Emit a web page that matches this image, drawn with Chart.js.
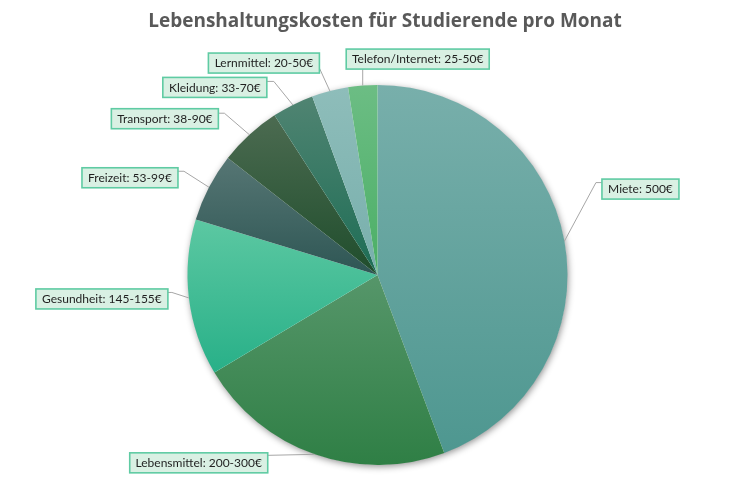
<!DOCTYPE html>
<html><head><meta charset="utf-8">
<script src="https://cdn.jsdelivr.net/npm/chart.js@4.4.1/dist/chart.umd.min.js"></script>
<style>html,body{margin:0;padding:0;background:#fff}#wrap{width:750px;height:492px;position:relative}</style>
</head><body><div id="wrap"><canvas id="c" width="750" height="492"></canvas></div>
<script>
const chartTitle = 'Lebenshaltungskosten für Studierende pro Monat';
const categories = ['Miete','Lebensmittel','Gesundheit','Freizeit','Transport','Kleidung','Lernmittel','Telefon/Internet'];
const values = [500, 250, 150, 66, 60, 40, 35, 28];
const rangeLabels = ['500€','200-300€','145-155€','53-99€','38-90€','33-70€','20-50€','25-50€'];

const topColors    = ['#78AFAB','#56966A','#5CC8A2','#567674','#4C6B51','#508472','#8EBDBA','#6CBD84'];
const bottomColors = ['#4E9790','#2F7F45','#28B088','#2E5654','#1F4D2C','#1D6D55','#78AFAC','#4BAF66'];

// label box placement relative to the slice's edge point (layout only)
const labelLayout = [
  {dx: 76,  dy: -52, side: 'left',  ay: 3.5, elbow: 6},
  {dx: -116,dy: 8.5, side: 'right', ay: 2.5, elbow: 0},
  {dx: -87, dy: 1,   side: 'right', ay: 3.5, elbow: 4},
  {dx: -79, dy: -9.5,side: 'right', ay: 3.5, elbow: 6},
  {dx: -84.5,dy:-16, side: 'right', ay: 4.5, elbow: 6},
  {dx: -78, dy: -17.5,side:'right', ay: 4,   elbow: 7},
  {dx: -66, dy: -28, side: 'right', ay: 15,  elbow: 0},
  {dx: 55,  dy: -26.5,side:'bottom',ay: 0,   elbow: 0}
];

function sliceGradient(ctx) {
  const chart = ctx.chart, ca = chart.chartArea, i = ctx.dataIndex;
  if (!ca) return topColors[i];
  const cx = (ca.left + ca.right) / 2, cy = (ca.top + ca.bottom) / 2;
  const r = Math.min(ca.right - ca.left, ca.bottom - ca.top) / 2;
  const total = values.reduce((a, b) => a + b, 0);
  let s = 0; for (let k = 0; k < i; k++) s += values[k];
  const a0 = -Math.PI / 2 + s / total * 2 * Math.PI;
  const a1 = a0 + values[i] / total * 2 * Math.PI;
  const ys = [cy, cy + r * Math.sin(a0), cy + r * Math.sin(a1)];
  for (const e of [-Math.PI / 2, Math.PI / 2, 3 * Math.PI / 2]) if (e >= a0 && e <= a1) ys.push(cy + r * Math.sin(e));
  const g = chart.ctx.createLinearGradient(0, Math.min(...ys), 0, Math.max(...ys));
  g.addColorStop(0, topColors[i]);
  g.addColorStop(1, bottomColors[i]);
  return g;
}

const decor = {
  id: 'decor',
  beforeDatasetsDraw(chart) {
    const el = chart.getDatasetMeta(0).data[0];
    if (!el) return;
    const ctx = chart.ctx;
    ctx.save();
    ctx.shadowColor = 'rgba(0,0,0,0.45)';
    ctx.shadowBlur = 7;
    ctx.shadowOffsetX = 1;
    ctx.shadowOffsetY = 2;
    ctx.beginPath();
    ctx.arc(el.x, el.y, el.outerRadius - 0.5, 0, Math.PI * 2);
    ctx.fillStyle = '#ffffff';
    ctx.fill();
    ctx.restore();
  },
  afterDatasetsDraw(chart) {
    const ctx = chart.ctx;
    const meta = chart.getDatasetMeta(0);
    // title
    ctx.save();
    ctx.font = 'bold 19px "Open Sans"';
    ctx.fillStyle = '#595959';
    ctx.textAlign = 'center';
    ctx.textBaseline = 'middle';
    ctx.fillText(chartTitle, 385, 22);
    ctx.restore();

    ctx.save();
    ctx.font = '12px Lato';
    const boxes = [];
    meta.data.forEach((el, i) => {
      const mid = (el.startAngle + el.endAngle) / 2;
      const ex = el.x + Math.cos(mid) * el.outerRadius;
      const ey = el.y + Math.sin(mid) * el.outerRadius;
      const L = labelLayout[i];
      const text = categories[i] + ': ' + rangeLabels[i];
      const w = Math.round(ctx.measureText(text).width + 12);
      const h = 20;
      const bx = ex + L.dx - w / 2, by = ey + L.dy - h / 2;
      boxes.push({bx, by, w, h, text});
      ctx.beginPath();
      ctx.strokeStyle = '#A6A6A6';
      ctx.lineWidth = 1;
      if (L.side === 'bottom') {
        ctx.moveTo(ex, by + h);
        ctx.lineTo(ex, ey);
      } else if (L.side === 'right') {
        const ax = bx + w, ay = by + L.ay;
        ctx.moveTo(ax, ay);
        ctx.lineTo(ax + L.elbow, ay);
        ctx.lineTo(ex, ey);
      } else {
        const ax = bx, ay = by + L.ay;
        ctx.moveTo(ax, ay);
        ctx.lineTo(ax - L.elbow, ay);
        ctx.lineTo(ex, ey);
      }
      ctx.stroke();
    });
    boxes.forEach(b => {
      ctx.fillStyle = '#D9F0E3';
      ctx.fillRect(b.bx, b.by, b.w, b.h);
      ctx.strokeStyle = '#5FCBA3';
      ctx.lineWidth = 1.6;
      ctx.strokeRect(b.bx, b.by, b.w, b.h);
      ctx.fillStyle = '#1f1f1f';
      ctx.textAlign = 'center';
      ctx.textBaseline = 'middle';
      ctx.fillText(b.text, b.bx + b.w / 2, b.by + b.h / 2 + 0.5);
    });
    ctx.restore();
  }
};

new Chart(document.getElementById('c'), {
  type: 'pie',
  data: {
    labels: categories,
    datasets: [{
      data: values,
      backgroundColor: sliceGradient,
      borderWidth: 0,
      hoverOffset: 0
    }]
  },
  options: {
    responsive: false,
    animation: false,
    events: [],
    layout: {padding: {top: 85, bottom: 27, left: 77.5, right: 72.5}},
    plugins: {
      legend: {display: false},
      title: {display: false},
      tooltip: {enabled: false}
    }
  },
  plugins: [decor]
});
</script>
</body></html>
